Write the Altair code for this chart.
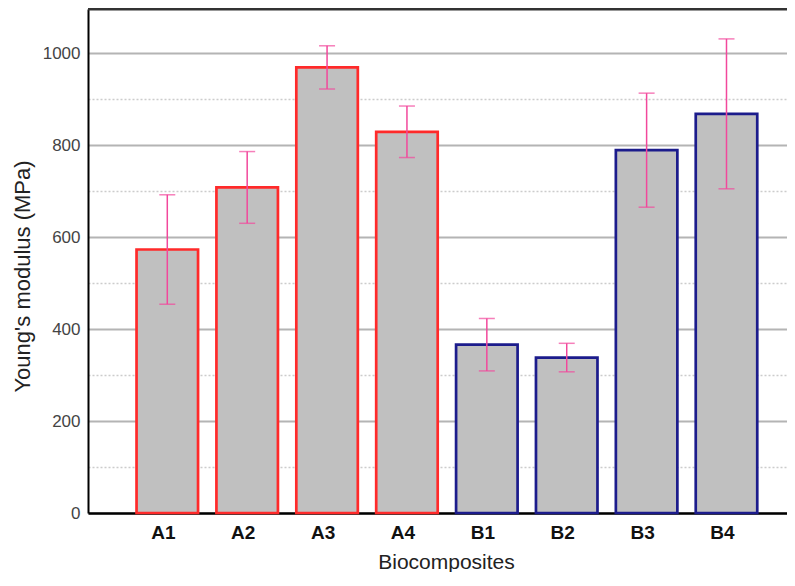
import altair as alt
import pandas as pd

categories = ["A1", "A2", "A3", "A4", "B1", "B2", "B3", "B4"]
modulus = [573, 708, 969, 829, 366, 338, 789, 868]
errors = [119, 78, 47, 56, 57, 31, 124, 163]
groups = ["A", "A", "A", "A", "B", "B", "B", "B"]
y_ticks = [0, 100, 200, 300, 400, 500, 600, 700, 800, 900, 1000]

df = pd.DataFrame({"cat": categories, "mod": modulus, "err": errors, "grp": groups})
df["low"] = df["mod"] - df["err"]
df["high"] = df["mod"] + df["err"]

FONT = "Liberation Sans"
major = "datum.value % 200 === 0"

x = alt.X(
    "cat:N",
    sort=categories,
    scale=alt.Scale(paddingInner=0.23, paddingOuter=0.49, align=0.62),
    axis=alt.Axis(
        title="Biocomposites",
        labelAngle=0,
        labelFont=FONT,
        labelFontWeight="bold",
        labelFontSize=19,
        labelColor="#111111",
        labelPadding=10,
        labelOffset=-4,
        ticks=False,
        grid=False,
        domainColor="#000000",
        domainWidth=2.5,
        titleFont=FONT,
        titleFontSize=21,
        titleFontWeight="normal",
        titleColor="#222222",
        titleX=358,
        titleY=55,
        titleBaseline="alphabetic",
    ),
)

y = alt.Y(
    "mod:Q",
    scale=alt.Scale(domain=[0, 1096], nice=False, zero=True),
    axis=alt.Axis(
        title="Young's modulus (MPa)",
        values=y_ticks,
        format="d",
        labelExpr="datum.value % 200 === 0 ? datum.label : ''",
        labelFont=FONT,
        labelFontSize=17,
        labelColor="#444444",
        labelPadding=8,
        ticks=False,
        domainColor="#000000",
        domainWidth=2,
        grid=True,
        gridColor=alt.condition(major, alt.value("#b4b4b4"), alt.value("#cccccc")),
        gridDash=alt.condition(major, alt.value([]), alt.value([2, 2])),
        gridWidth=alt.condition(major, alt.value(2), alt.value(1.5)),
        titleFont=FONT,
        titleFontSize=22,
        titleFontWeight="normal",
        titleColor="#222222",
        titleX=-66,
        titleY=267,
        titleAngle=270,
        titleAlign="center",
        titleBaseline="middle",
    ),
)

base = alt.Chart(df)

bars = base.mark_bar(fill="#c0c0c0", strokeWidth=2.7).encode(
    x=x,
    y=y,
    stroke=alt.Color(
        "grp:N",
        scale=alt.Scale(domain=["A", "B"], range=["#ff2a2a", "#1c1c8c"]),
        legend=None,
    ),
)

PINK = "#f2489c"
err_line = base.mark_rule(color=PINK, strokeWidth=1.5).encode(
    x=alt.X("cat:N", sort=categories), y="low:Q", y2="high:Q"
)
cap_low = base.mark_tick(color=PINK, size=16, thickness=1.5).encode(
    x=alt.X("cat:N", sort=categories), y="low:Q"
)
cap_high = base.mark_tick(color=PINK, size=16, thickness=1.5).encode(
    x=alt.X("cat:N", sort=categories), y="high:Q"
)

top_line = alt.Chart(alt.Data(values=[{"a": 1}])).mark_rule(
    color="#333333", strokeWidth=3
).encode(y=alt.value(0))

chart = (
    alt.layer(bars, err_line, cap_low, cap_high, top_line)
    .properties(
        width=699,
        height=504,
        autosize=alt.AutoSizeParams(type="none"),
        padding={"left": 80, "top": 1, "right": 0, "bottom": 59},
    )
    .configure_view(strokeWidth=0)
)

chart.save("out.html", embed_options={"renderer": "svg", "actions": False})
